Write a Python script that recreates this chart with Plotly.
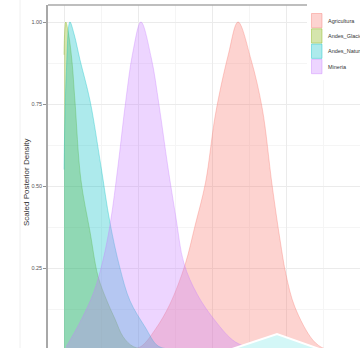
import plotly.graph_objects as go

# ---------------- data ----------------
series_names = ["Agricultura", "Andes_Glaciers", "Andes_Natural", "Mineria"]
series_colors = ["#F8766D", "#7CAE00", "#00BFC4", "#C77CFF"]

agri_x = [0.20, 0.257, 0.307, 0.358, 0.409, 0.443, 0.478, 0.512, 0.555, 0.588,
          0.632, 0.670, 0.703, 0.730, 0.750, 0.780, 0.841, 0.88, 0.92]
agri_y = [0.0, 0.009, 0.061, 0.140, 0.260, 0.380, 0.510, 0.720, 0.900, 1.0,
          0.885, 0.735, 0.503, 0.335, 0.230, 0.131, 0.030, 0.004, 0.0]

glac_x = [0.0, 0.006, 0.016, 0.027, 0.037, 0.057, 0.088, 0.115, 0.145, 0.172,
          0.20, 0.235, 0.30]
glac_y = [0.90, 1.0, 0.96, 0.88, 0.76, 0.52, 0.36, 0.225, 0.150, 0.095,
          0.04, 0.01, 0.0]

nat_x = [0.0, 0.008, 0.02, 0.035, 0.054, 0.088, 0.125, 0.155, 0.189, 0.223,
         0.274, 0.318, 0.37, 0.43]
nat_y = [0.55, 0.85, 1.0, 0.96, 0.885, 0.76, 0.56, 0.39, 0.25, 0.15,
         0.07, 0.012, 0.002, 0.0]

min_x = [0.007, 0.057, 0.100, 0.132, 0.157, 0.182, 0.209, 0.232, 0.260,
         0.295, 0.321, 0.351, 0.378, 0.405, 0.450, 0.510, 0.578, 0.65]
min_y = [0.009, 0.090, 0.175, 0.275, 0.390, 0.558, 0.762, 0.905, 1.0,
         0.890, 0.747, 0.558, 0.405, 0.265, 0.170, 0.090, 0.025, 0.0]

y_tick_vals = [0.25, 0.50, 0.75, 1.00]
y_tick_text = ["0.25", "0.50", "0.75", "1.00"]
y_title = "Scaled Posterior Density"

xs = [agri_x, glac_x, nat_x, min_x]
ys = [agri_y, glac_y, nat_y, min_y]

# ---------------- layout geometry ----------------
W, H = 360, 348
ML, MR, MT, MB = 48, 0, 5, 0
PW, PH = W - ML - MR, H - MT - MB
FONT = "Liberation Sans, Arial, sans-serif"


def px_x(px):
    return (px - ML) / PW


def px_y(py):
    return (H - MB - py) / PH


def rgba(hexc, a):
    h = hexc.lstrip("#")
    r, g, b = int(h[0:2], 16), int(h[2:4], 16), int(h[4:6], 16)
    return f"rgba({r},{g},{b},{a})"


FILL_A = 0.32
LINE_A = 0.42

fig = go.Figure()
for name, col, x, y in zip(series_names, series_colors, xs, ys):
    fig.add_trace(go.Scatter(
        x=x, y=y, name=name, mode="lines",
        line=dict(color=rgba(col, LINE_A), width=0.8, shape="spline", smoothing=1.0),
        fill="tozeroy", fillcolor=rgba(col, FILL_A),
        showlegend=False, hoverinfo="skip",
    ))

shapes = []
annotations = []

# faint line at far left of the image
shapes.append(dict(type="line", xref="paper", yref="paper",
                   x0=px_x(20), x1=px_x(20), y0=-0.05, y1=1.1,
                   line=dict(color="#f0f0f0", width=1), layer="below"))
# top panel border
shapes.append(dict(type="line", xref="paper", yref="paper",
                   x0=0, x1=1, y0=1, y1=1,
                   line=dict(color="#a8a8a8", width=1.5), layer="above"))

# legend background
shapes.append(dict(type="rect", xref="paper", yref="paper",
                   x0=px_x(307), x1=px_x(365), y0=px_y(80), y1=px_y(-3),
                   fillcolor="white", line=dict(width=0), layer="above"))
key_top, key_h = 13.0, 15.3
for i, (name, col) in enumerate(zip(series_names, series_colors)):
    t = key_top + key_h * i
    shapes.append(dict(type="rect", xref="paper", yref="paper",
                       x0=px_x(311.5), x1=px_x(322), y0=px_y(t + key_h - 0.5), y1=px_y(t + 0.5),
                       fillcolor=rgba(col, FILL_A),
                       line=dict(color=rgba(col, 0.5), width=0.8), layer="above"))
    annotations.append(dict(xref="paper", yref="paper", x=px_x(326), y=px_y(t + key_h / 2),
                            xanchor="left", yanchor="middle", showarrow=False,
                            text=name, font=dict(family=FONT, size=5.5, color="#333333")))

# pale cyan element at the bottom of the picture
shapes.append(dict(type="path", xref="paper", yref="paper",
                   path=f"M {px_x(226)},{px_y(351)} L {px_x(277)},{px_y(334)} L {px_x(325)},{px_y(351)} Z",
                   fillcolor="#d3f7f7", line=dict(color="white", width=2), layer="above"))

# y-axis title
annotations.append(dict(xref="paper", yref="paper", x=px_x(26), y=px_y(182),
                        xanchor="center", yanchor="middle", showarrow=False,
                        textangle=-90, text=y_title,
                        font=dict(family=FONT, size=8, color="#333333")))

fig.update_layout(
    width=W, height=H, autosize=False,
    margin=dict(l=ML, r=MR, t=MT, b=MB, pad=0),
    paper_bgcolor="white", plot_bgcolor="white",
    font=dict(family=FONT),
    shapes=shapes, annotations=annotations,
    showlegend=False,
)
fig.update_xaxes(
    range=[(ML - 64) / 296, (W - 64) / 296],
    showticklabels=False, ticks="", zeroline=False,
    showgrid=True, tick0=0, dtick=0.25, gridcolor="#ebebeb", gridwidth=1,
    minor=dict(dtick=0.125, showgrid=True, gridcolor="#f5f5f5", gridwidth=0.6),
    showline=False,
)
fig.update_yaxes(
    range=[(350 - (H - MB)) / 328, (350 - MT) / 328],
    tickmode="array", tickvals=y_tick_vals, ticktext=y_tick_text,
    ticks="outside", ticklen=3, tickcolor="#909090", tickwidth=1,
    tickfont=dict(family=FONT, size=5.5, color="#555555"),
    showline=True, linecolor="#a8a8a8", linewidth=1.5,
    zeroline=False, showgrid=True, gridcolor="#ebebeb", gridwidth=1,
    minor=dict(dtick=0.125, tick0=0, showgrid=True, gridcolor="#f5f5f5", gridwidth=0.6),
)

fig.write_html("out.html", config={"displayModeBar": False},
               post_script="document.body.style.margin='0';document.body.style.overflow='hidden';")
